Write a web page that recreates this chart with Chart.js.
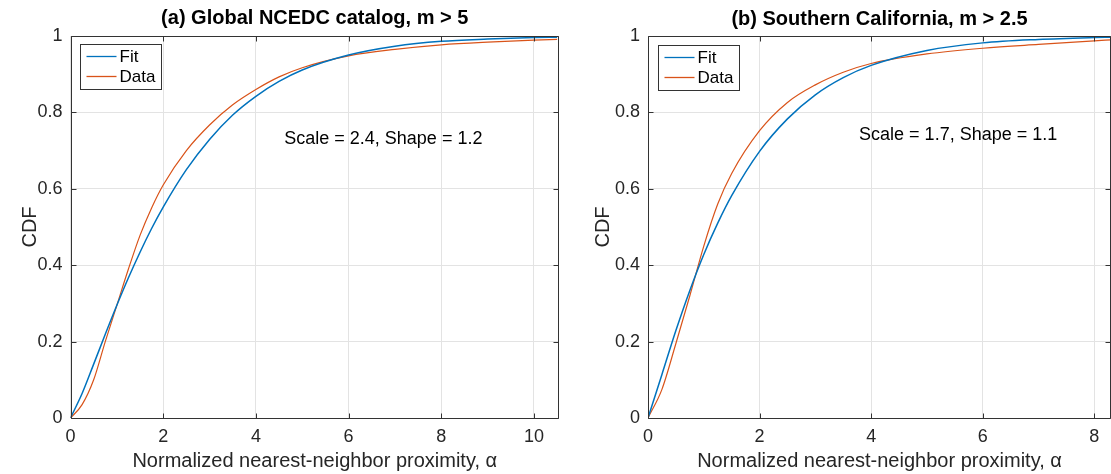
<!DOCTYPE html>
<html><head><meta charset="utf-8">
<script src="https://cdn.jsdelivr.net/npm/chart.js@4.4.1/dist/chart.umd.min.js"></script>
<style>
html,body{margin:0;padding:0;background:#fff;}
#wrap{position:relative;width:1111px;height:474px;overflow:hidden;background:#fff;}
#c1{position:absolute;left:0;top:0;width:600px;height:474px;}
#c2{position:absolute;left:580px;top:0;width:531px;height:474px;}
</style></head><body>
<div id="wrap"><canvas id="c1" width="600" height="474"></canvas><canvas id="c2" width="531" height="474"></canvas></div>
<script>
// ---- Panel (a): Global NCEDC catalog, m > 5 ----
const titleA = "(a) Global NCEDC catalog, m > 5";
const alphaA = [0,0.25,0.5,0.75,1,1.25,1.5,1.75,2,2.5,3,3.5,4,4.5,5,6,7,8,9,10,10.5];
const fitA   = [0,0.064,0.141,0.219,0.295,0.367,0.434,0.496,0.552,0.650,0.729,0.793,0.842,0.881,0.911,0.950,0.973,0.986,0.992,0.996,0.997];
const dataA  = [0,0.035,0.100,0.200,0.295,0.390,0.478,0.550,0.610,0.700,0.767,0.820,0.860,0.893,0.917,0.948,0.965,0.977,0.984,0.989,0.991];
const noteA  = "Scale = 2.4, Shape = 1.2";

// ---- Panel (b): Southern California, m > 2.5 ----
const titleB = "(b) Southern California, m > 2.5";
const alphaB = [0,0.25,0.5,0.75,1,1.25,1.5,2,2.5,3,3.5,4,5,6,7,8,8.3];
const fitB   = [0,0.114,0.229,0.334,0.428,0.510,0.582,0.698,0.783,0.846,0.891,0.923,0.962,0.982,0.991,0.996,0.997];
const dataB  = [0,0.075,0.195,0.320,0.450,0.560,0.640,0.752,0.826,0.872,0.905,0.928,0.953,0.968,0.978,0.987,0.990];
const noteB  = "Scale = 1.7, Shape = 1.1";

const xTitle = "Normalized nearest-neighbor proximity, \u03B1";
const yTitle = "CDF";
const seriesNames = ["Fit", "Data"];
const yTicks = [0,0.2,0.4,0.6,0.8,1];
const yTickLabels = ["0","0.2","0.4","0.6","0.8","1"];

const FONT = "'Liberation Sans', Arial, Helvetica, sans-serif";
const BLUE = "#0072BD", ORANGE = "#D95319";

function pts(xs, ys){ return xs.map((x,i)=>({x:x, y:ys[i]})); }

const matlabPlugin = {
  id: 'matlab',
  afterDatasetsDraw(chart, args, o) {
    const ctx = chart.ctx, a = chart.chartArea;
    const xs = chart.scales.x, ys = chart.scales.y;
    ctx.save();
    ctx.strokeStyle = '#333333';
    ctx.lineWidth = 1;
    const L = Math.round(a.left)+0.5, R = Math.round(a.right)-0.5, T = Math.round(a.top)+0.5, B = Math.round(a.bottom)+0.5;
    ctx.beginPath();
    ctx.moveTo(L,T); ctx.lineTo(R,T); ctx.lineTo(R,B); ctx.lineTo(L,B); ctx.closePath();
    ctx.stroke();
    const tl = 5;
    ctx.beginPath();
    xs.ticks.forEach(t => {
      const px = Math.round(xs.getPixelForValue(t.value))+0.5;
      ctx.moveTo(px,B); ctx.lineTo(px,B-tl);
      ctx.moveTo(px,T); ctx.lineTo(px,T+tl);
    });
    ys.ticks.forEach(t => {
      const py = Math.round(ys.getPixelForValue(t.value))+0.5;
      ctx.moveTo(L,py); ctx.lineTo(L+tl,py);
      ctx.moveTo(R,py); ctx.lineTo(R-tl,py);
    });
    ctx.stroke();

    // annotation text
    ctx.fillStyle = '#000';
    ctx.font = '18px ' + FONT;
    ctx.textAlign = 'center';
    ctx.textBaseline = 'middle';
    ctx.fillText(o.note, xs.getPixelForValue(o.noteX), ys.getPixelForValue(o.noteY));

    // legend box
    ctx.font = '17px ' + FONT;
    ctx.textAlign = 'left';
    const ds = chart.data.datasets;
    let tw = 0;
    ds.forEach(d => { tw = Math.max(tw, ctx.measureText(d.label).width); });
    const bx = Math.round(a.left + o.legDx)+0.5, by = Math.round(a.top + o.legDy)+0.5;
    const bw = Math.round(6 + 30 + 4 + tw + 5), bh = 45;
    ctx.fillStyle = '#fff';
    ctx.fillRect(bx, by, bw, bh);
    ctx.strokeStyle = '#333333';
    ctx.strokeRect(bx, by, bw, bh);
    ds.forEach((d,i) => {
      const cy = by + 12 + i*20;
      ctx.strokeStyle = d.borderColor;
      ctx.lineWidth = 1.3;
      ctx.beginPath(); ctx.moveTo(bx+6, cy); ctx.lineTo(bx+36, cy); ctx.stroke();
      ctx.fillStyle = '#000';
      ctx.fillText(d.label, bx+39, cy+1);
    });
    ctx.restore();
  }
};

function makeChart(id, title, xsArr, fit, dat, xMax, yWidth, yTitlePad, note, noteX, noteY, legDx, legDy, padRight, titleTop) {
  return new Chart(document.getElementById(id), {
    type: 'line',
    data: {
      datasets: [
        { label: seriesNames[0], data: pts(xsArr, fit), borderColor: BLUE, borderWidth: 1.5, pointRadius: 0, cubicInterpolationMode: 'monotone', fill: false },
        { label: seriesNames[1], data: pts(xsArr, dat), borderColor: ORANGE, borderWidth: 1.2, pointRadius: 0, cubicInterpolationMode: 'monotone', fill: false }
      ]
    },
    options: {
      responsive: false,
      animation: false,
      devicePixelRatio: 1,
      layout: { padding: { left: 0, right: padRight, top: 0, bottom: 0 } },
      plugins: {
        legend: { display: false },
        tooltip: { enabled: false },
        title: {
          display: true, text: title, fullSize: false, color: '#000',
          font: { family: FONT, size: 20, weight: 'bold', lineHeight: 1.2 },
          padding: { top: titleTop, bottom: 36 - titleTop - 24 }
        },
        matlab: { note: note, noteX: noteX, noteY: noteY, legDx: legDx, legDy: legDy }
      },
      scales: {
        x: {
          type: 'linear', min: 0, max: xMax,
          grid: { color: '#e3e3e3', drawTicks: false, lineWidth: 1 },
          border: { display: false },
          ticks: { stepSize: 2, includeBounds: false, color: '#262626', padding: 8, maxRotation: 0,
                   font: { family: FONT, size: 18 } },
          title: { display: true, text: xTitle, color: '#262626', font: { family: FONT, size: 20 }, padding: { top: 0, bottom: 1 } },
          afterFit(s) { s.height = 56; }
        },
        y: {
          type: 'linear', min: 0, max: 1,
          afterBuildTicks(s) { s.ticks = yTicks.map(v => ({ value: v })); },
          grid: { color: '#e3e3e3', drawTicks: false, lineWidth: 1 },
          border: { display: false },
          ticks: { color: '#262626', padding: 8, font: { family: FONT, size: 18 },
                   callback: (v, i) => yTickLabels[i] },
          title: { display: true, text: yTitle, color: '#262626', font: { family: FONT, size: 20 }, padding: { top: yTitlePad, bottom: 0 } },
          afterFit(s) { s.width = yWidth; }
        }
      }
    },
    plugins: [matlabPlugin]
  });
}

makeChart('c1', titleA, alphaA, fitA, dataA, 10.54, 70.5, 18, noteA, 6.75, 0.73, 9.5, 8, 41, 6);
makeChart('c2', titleB, alphaB, fitB, dataB, 8.3, 68, 11, noteB, 5.56, 0.74, 10, 8.5, -1, 7);
</script>
</body></html>
